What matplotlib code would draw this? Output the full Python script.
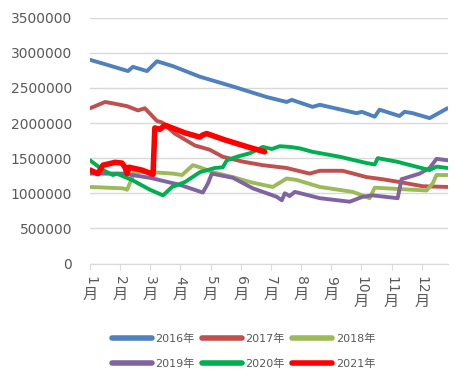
import matplotlib.pyplot as plt
from matplotlib.lines import Line2D
from matplotlib.ticker import FuncFormatter
from matplotlib.transforms import offset_copy

plt.rcParams["font.family"] = ["DejaVu Sans", "Noto Sans CJK SC"]

MONTHS = list(range(1, 13))
MONTH_SUFFIX = "月"

# positions in months (1 = start of January), values in tonnes
x_2016 = [1.00, 1.56, 2.26, 2.42, 2.89, 3.22, 3.75, 4.64, 5.74, 6.86, 7.52, 7.69,
          8.38, 8.62, 9.84, 10.01, 10.44, 10.60, 11.26, 11.43, 11.70, 12.26, 12.85]
y_2016 = [2900000, 2830000, 2740000, 2800000, 2740000, 2880000, 2810000, 2660000,
          2520000, 2370000, 2300000, 2330000, 2230000, 2260000, 2140000, 2160000,
          2090000, 2190000, 2100000, 2160000, 2140000, 2070000, 2210000]

x_2017 = [1.00, 1.50, 1.76, 2.23, 2.59, 2.82, 3.22, 3.38, 3.81, 4.48, 4.97, 5.40,
          6.07, 6.73, 7.52, 8.28, 8.62, 9.38, 10.17, 10.70, 11.26, 12.03, 12.85]
y_2017 = [2210000, 2300000, 2280000, 2240000, 2180000, 2210000, 2030000, 2010000,
          1850000, 1680000, 1620000, 1520000, 1450000, 1400000, 1360000, 1280000,
          1320000, 1320000, 1230000, 1200000, 1160000, 1100000, 1090000]

x_2018 = [1.00, 2.09, 2.23, 2.39, 2.46, 3.05, 3.75, 4.05, 4.41, 4.64, 5.07, 5.74,
          6.40, 7.06, 7.52, 7.85, 8.62, 9.71, 10.27, 10.44, 11.26, 12.16, 12.36,
          12.49, 12.85]
y_2018 = [1090000, 1070000, 1050000, 1210000, 1300000, 1300000, 1280000, 1260000,
          1400000, 1370000, 1300000, 1230000, 1150000, 1090000, 1210000, 1190000,
          1090000, 1020000, 930000, 1080000, 1060000, 1040000, 1140000, 1260000,
          1260000]

x_2019 = [1.00, 2.09, 2.99, 3.98, 4.74, 4.91, 5.04, 5.74, 6.40, 7.19, 7.36, 7.46,
          7.62, 7.79, 8.62, 9.61, 10.04, 10.37, 11.20, 11.33, 11.93, 12.26, 12.49,
          12.85]
y_2019 = [1280000, 1280000, 1220000, 1120000, 1010000, 1140000, 1280000, 1220000,
          1070000, 950000, 900000, 1000000, 960000, 1020000, 930000, 880000, 950000,
          970000, 930000, 1200000, 1280000, 1360000, 1490000, 1470000]

x_2020 = [1.00, 1.43, 1.76, 1.89, 2.16, 2.39, 2.99, 3.42, 3.72, 4.15, 4.64, 5.14,
          5.40, 5.54, 5.87, 6.30, 6.73, 7.03, 7.29, 7.62, 7.95, 8.38, 9.28, 10.17,
          10.44, 10.54, 11.17, 12.26, 12.49, 12.85]
y_2020 = [1470000, 1330000, 1260000, 1280000, 1230000, 1190000, 1050000, 970000,
          1090000, 1160000, 1300000, 1360000, 1370000, 1470000, 1520000, 1570000,
          1660000, 1630000, 1670000, 1660000, 1640000, 1590000, 1520000, 1430000,
          1410000, 1500000, 1450000, 1330000, 1380000, 1360000]

x_2021 = [1.00, 1.26, 1.43, 1.83, 2.06, 2.16, 2.23, 2.30, 2.72, 3.09, 3.15, 3.32,
          3.48, 4.15, 4.64, 4.74, 4.87, 5.47, 6.23, 6.79]
y_2021 = [1330000, 1280000, 1400000, 1440000, 1430000, 1370000, 1280000, 1370000,
          1330000, 1270000, 1930000, 1910000, 1970000, 1860000, 1800000, 1830000,
          1850000, 1760000, 1660000, 1590000]

SERIES = [
    ("2016年", x_2016, y_2016, "#4F81BD", 2.8),
    ("2017年", x_2017, y_2017, "#C0504D", 2.8),
    ("2018年", x_2018, y_2018, "#9BBB59", 2.8),
    ("2019年", x_2019, y_2019, "#8064A2", 2.8),
    ("2020年", x_2020, y_2020, "#00B050", 2.8),
    ("2021年", x_2021, y_2021, "#FF0000", 4.0),
]

TEXT_COLOR = "#595959"
GRID_COLOR = "#D9D9D9"


def main():
    fig = plt.figure(figsize=(4.68, 3.82), dpi=100)
    ax = fig.add_axes([0.1923, 0.3102, 0.7650, 0.6435])

    handles = {}
    for name, xs, ys, color, lw in SERIES:
        ax.plot(xs, ys, color=color, linewidth=lw,
                solid_capstyle="round", solid_joinstyle="round")
        handles[name] = Line2D([], [], color=color, linewidth=4.0, solid_capstyle="round")

    ax.set_xlim(1, 12.87)
    ax.set_ylim(0, 3500000)
    ax.set_yticks(range(0, 3500001, 500000))
    ax.yaxis.set_major_formatter(FuncFormatter(lambda v, _: f"{v:.0f}"))
    ax.yaxis.grid(True, color=GRID_COLOR, linewidth=1.0)
    ax.set_axisbelow(True)
    ax.tick_params(axis="y", length=0, labelsize=10, labelcolor=TEXT_COLOR, pad=13)

    ax.set_xticks(MONTHS)
    ax.set_xticklabels([])
    ax.tick_params(axis="x", length=4, color=GRID_COLOR, direction="out")

    for side in ("top", "right", "left"):
        ax.spines[side].set_visible(False)
    ax.spines["bottom"].set_color(GRID_COLOR)

    # Excel-style vertical labels: digits turned, 月 upright underneath
    base = ax.get_xaxis_transform()
    digit_tr = offset_copy(base, fig=fig, x=0, y=-9, units="points")
    for m in MONTHS:
        digits = str(m)
        ax.text(m, 0, digits, transform=digit_tr, rotation=-90, ha="center", va="top",
                fontsize=10, color=TEXT_COLOR, clip_on=False)
        drop = 16 if len(digits) == 1 else 21.5
        suffix_tr = offset_copy(base, fig=fig, x=0, y=-drop, units="points")
        ax.text(m, 0, MONTH_SUFFIX, transform=suffix_tr, ha="center", va="top",
                fontsize=11, color=TEXT_COLOR, family="Noto Sans CJK SC", clip_on=False)

    order = ["2016年", "2019年", "2017年", "2020年", "2018年", "2021年"]
    fig.legend([handles[n] for n in order], order, ncol=3, loc="center",
               bbox_to_anchor=(0.52, 0.08), frameon=False, fontsize=8,
               handlelength=3.6, handletextpad=0.3, columnspacing=0.7,
               labelspacing=1.3, labelcolor=TEXT_COLOR)

    fig.savefig("out.png", dpi=100)


if __name__ == "__main__":
    main()
